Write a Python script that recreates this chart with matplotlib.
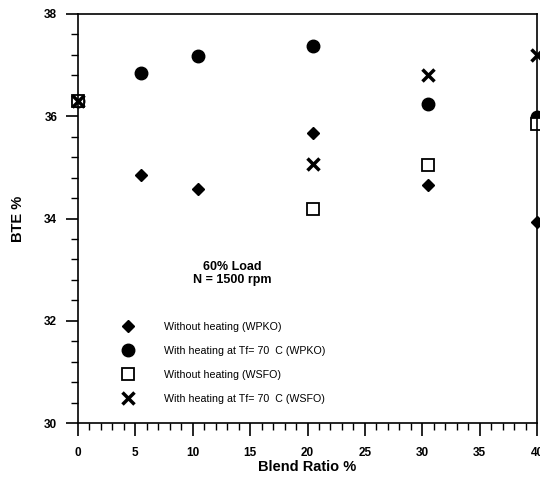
import matplotlib
matplotlib.use("Agg")
import matplotlib.pyplot as plt
from matplotlib.ticker import MultipleLocator

plt.rcParams['font.family'] = ['Liberation Sans', 'DejaVu Sans']

blend_wpko = [0, 5.5, 10.5, 20.5, 30.5, 40]
bte_wpko_noheat = [36.3, 34.85, 34.57, 35.68, 34.65, 33.93]
bte_wpko_heat = [36.3, 36.85, 37.18, 37.37, 36.23, 35.98]
blend_wsfo = [0, 20.5, 30.5, 40]
bte_wsfo_noheat = [36.3, 34.18, 35.05, 35.85]
bte_wsfo_heat = [36.3, 35.07, 36.8, 37.2]

labels = ["Without heating (WPKO)", "With heating at Tf= 70  C (WPKO)",
          "Without heating (WSFO)", "With heating at Tf= 70  C (WSFO)"]

fig = plt.figure(figsize=(5.4, 4.8), dpi=100)
ax = fig.add_axes([78/540, (480-423)/480, (537-78)/540, (423-14)/480])

ax.plot(blend_wpko, bte_wpko_noheat, 'D', color='black', ms=6, ls='none', clip_on=False, label=labels[0])
ax.plot(blend_wpko, bte_wpko_heat, 'o', color='black', ms=9, ls='none', clip_on=False, label=labels[1])
ax.plot(blend_wsfo, bte_wsfo_noheat, 's', mfc='white', mec='black', mew=1.3, ms=9, ls='none', clip_on=False, label=labels[2])
ax.plot(blend_wsfo, bte_wsfo_heat, 'x', color='black', mew=2.5, ms=8, ls='none', clip_on=False, label=labels[3])

ax.set_xlim(0, 40)
ax.set_ylim(30, 38)
ax.xaxis.set_major_locator(MultipleLocator(5))
ax.xaxis.set_minor_locator(MultipleLocator(1))
ax.yaxis.set_major_locator(MultipleLocator(2))
ax.yaxis.set_minor_locator(MultipleLocator(0.4))
ax.tick_params(axis='both', which='major', direction='out', length=9, width=1.2, labelsize=8.5)
ax.tick_params(axis='both', which='minor', direction='out', length=5, width=1.0)
ax.tick_params(axis='x', which='major', pad=8)
ax.tick_params(axis='y', which='major', pad=6)
for lab in ax.get_xticklabels() + ax.get_yticklabels():
    lab.set_fontweight('bold')
for s in ax.spines.values():
    s.set_linewidth(1.2)

ax.set_xlabel("Blend Ratio %", fontsize=10.5, fontweight='bold', labelpad=1)
ax.set_ylabel("BTE %", fontsize=10.5, fontweight='bold', labelpad=14)

ax.text(0.337, 0.365, "60% Load\nN = 1500 rpm", transform=ax.transAxes, ha='center', va='center',
        fontsize=9, fontweight='bold', linespacing=1.15)

leg = ax.legend(loc='upper left', bbox_to_anchor=(0.075, 0.27), frameon=False, fontsize=7.7,
                handletextpad=2.7, labelspacing=1.3, markerscale=1.0, handlelength=1.2)

fig.savefig("out.png", dpi=100)
